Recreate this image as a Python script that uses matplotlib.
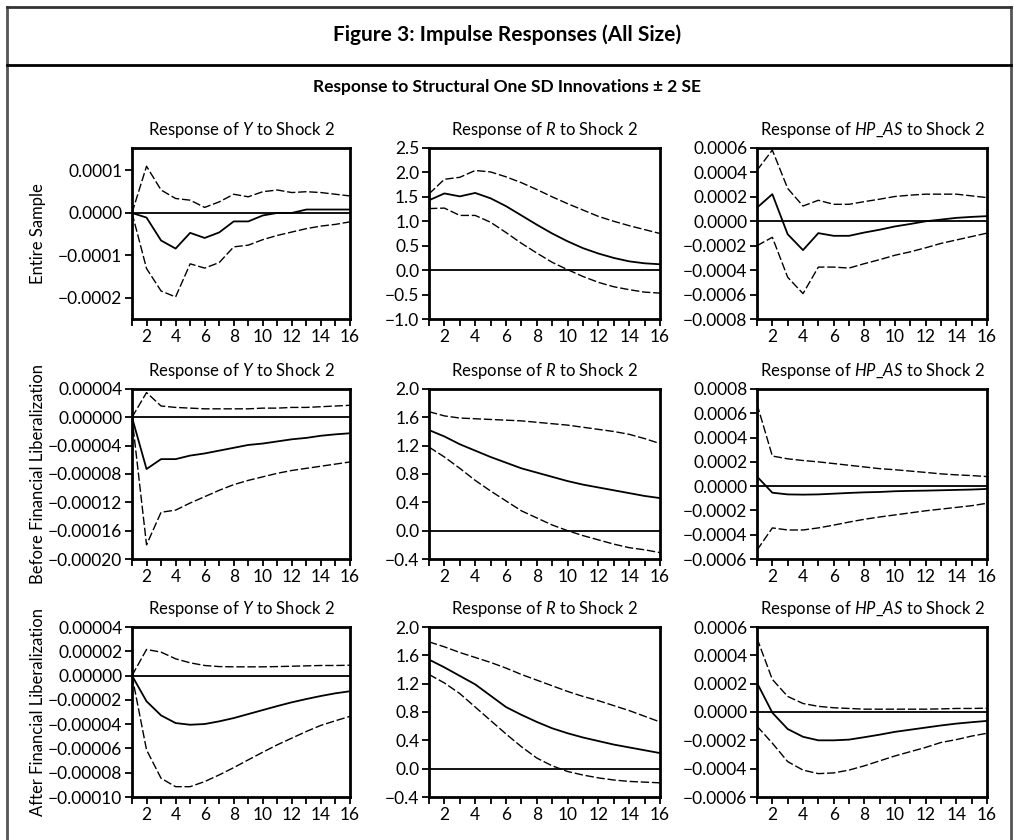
import numpy as np
import matplotlib
matplotlib.use("Agg")
import matplotlib.pyplot as plt
from matplotlib.lines import Line2D

plt.rcParams["font.family"] = ["Lato", "DejaVu Sans"]
plt.rcParams["mathtext.fontset"] = "custom"
plt.rcParams["mathtext.rm"] = "Lato"
plt.rcParams["mathtext.it"] = "Lato:italic"

periodos = np.arange(1, 17)

fila_nombres = ["Entire Sample", "Before Financial Liberalization", "After Financial Liberalization"]
variables = [r"$\mathit{Y}$", r"$\mathit{R}$", r"$\mathit{HP\_AS}$"]

# --- Entire sample ---
y_ent = np.array([0, -0.11, -0.65, -0.84, -0.47, -0.59, -0.46, -0.20, -0.20, -0.06, 0.0, 0.0, 0.08, 0.08, 0.08, 0.08]) * 1e-4
y_ent_up = np.array([0, 1.10, 0.54, 0.34, 0.30, 0.13, 0.26, 0.44, 0.38, 0.50, 0.54, 0.48, 0.50, 0.48, 0.44, 0.40]) * 1e-4
y_ent_lo = np.array([0, -1.31, -1.84, -1.98, -1.20, -1.30, -1.17, -0.80, -0.76, -0.63, -0.53, -0.45, -0.37, -0.31, -0.27, -0.21]) * 1e-4

r_ent = np.array([1.43, 1.57, 1.51, 1.58, 1.47, 1.31, 1.12, 0.93, 0.75, 0.59, 0.45, 0.34, 0.25, 0.18, 0.14, 0.12])
r_ent_up = np.array([1.56, 1.86, 1.90, 2.04, 2.01, 1.91, 1.79, 1.65, 1.50, 1.36, 1.23, 1.10, 1.00, 0.91, 0.83, 0.75])
r_ent_lo = np.array([1.26, 1.27, 1.12, 1.12, 0.98, 0.77, 0.55, 0.35, 0.16, 0.01, -0.13, -0.25, -0.34, -0.40, -0.45, -0.47])

hp_ent = np.array([1.11, 2.22, -1.06, -2.36, -0.97, -1.19, -1.19, -0.92, -0.69, -0.42, -0.22, 0.0, 0.14, 0.28, 0.36, 0.42]) * 1e-4
hp_ent_up = np.array([4.17, 5.83, 2.69, 1.25, 1.72, 1.39, 1.39, 1.61, 1.81, 2.03, 2.14, 2.22, 2.22, 2.22, 2.08, 1.94]) * 1e-4
hp_ent_lo = np.array([-2.0, -1.31, -4.58, -5.92, -3.75, -3.75, -3.83, -3.47, -3.14, -2.78, -2.50, -2.17, -1.81, -1.53, -1.25, -0.97]) * 1e-4

# --- Before financial liberalization ---
y_bef = np.array([0, -7.3, -5.9, -5.9, -5.4, -5.1, -4.7, -4.3, -3.9, -3.7, -3.4, -3.1, -2.9, -2.6, -2.4, -2.25]) * 1e-5
y_bef_up = np.array([0, 3.5, 1.6, 1.4, 1.3, 1.2, 1.2, 1.2, 1.2, 1.3, 1.3, 1.4, 1.4, 1.5, 1.6, 1.7]) * 1e-5
y_bef_lo = np.array([0, -18.0, -13.4, -13.1, -12.1, -11.2, -10.3, -9.5, -8.9, -8.4, -7.9, -7.5, -7.2, -6.9, -6.6, -6.3]) * 1e-5

r_bef = np.array([1.42, 1.33, 1.22, 1.13, 1.04, 0.96, 0.88, 0.82, 0.76, 0.70, 0.65, 0.61, 0.57, 0.53, 0.49, 0.46])
r_bef_up = np.array([1.68, 1.62, 1.59, 1.58, 1.57, 1.56, 1.55, 1.53, 1.51, 1.49, 1.46, 1.43, 1.40, 1.36, 1.30, 1.23])
r_bef_lo = np.array([1.18, 1.04, 0.88, 0.71, 0.56, 0.42, 0.28, 0.18, 0.08, 0.0, -0.07, -0.13, -0.19, -0.24, -0.27, -0.31])

hp_bef = np.array([0.79, -0.54, -0.68, -0.70, -0.68, -0.62, -0.56, -0.51, -0.48, -0.42, -0.39, -0.37, -0.34, -0.31, -0.28, -0.23]) * 1e-4
hp_bef_up = np.array([6.76, 2.48, 2.25, 2.11, 2.0, 1.86, 1.72, 1.58, 1.44, 1.35, 1.24, 1.13, 1.01, 0.93, 0.87, 0.79]) * 1e-4
hp_bef_lo = np.array([-5.27, -3.44, -3.61, -3.61, -3.44, -3.21, -2.96, -2.73, -2.54, -2.37, -2.20, -2.03, -1.89, -1.75, -1.61, -1.41]) * 1e-4

# --- After financial liberalization ---
y_aft = np.array([0, -2.12, -3.28, -3.91, -4.05, -3.99, -3.77, -3.50, -3.17, -2.84, -2.51, -2.20, -1.93, -1.68, -1.46, -1.29]) * 1e-5
y_aft_up = np.array([0, 2.15, 1.93, 1.38, 1.05, 0.83, 0.74, 0.72, 0.72, 0.72, 0.74, 0.77, 0.80, 0.83, 0.83, 0.85]) * 1e-5
y_aft_lo = np.array([0, -6.12, -8.46, -9.15, -9.15, -8.73, -8.18, -7.58, -6.94, -6.31, -5.70, -5.15, -4.60, -4.10, -3.72, -3.36]) * 1e-5

r_aft = np.array([1.54, 1.43, 1.31, 1.19, 1.03, 0.87, 0.76, 0.66, 0.57, 0.50, 0.44, 0.39, 0.34, 0.30, 0.26, 0.22])
r_aft_up = np.array([1.79, 1.72, 1.64, 1.57, 1.50, 1.42, 1.33, 1.25, 1.17, 1.09, 1.02, 0.96, 0.89, 0.82, 0.74, 0.66])
r_aft_lo = np.array([1.33, 1.21, 1.06, 0.87, 0.68, 0.49, 0.31, 0.15, 0.04, -0.04, -0.09, -0.13, -0.16, -0.18, -0.19, -0.20])

hp_aft = np.array([2.06, -0.05, -1.2, -1.75, -2.0, -2.0, -1.95, -1.78, -1.6, -1.4, -1.25, -1.1, -0.95, -0.82, -0.72, -0.63]) * 1e-4
hp_aft_up = np.array([5.2, 2.3, 1.1, 0.6, 0.4, 0.3, 0.25, 0.2, 0.2, 0.2, 0.2, 0.2, 0.22, 0.25, 0.25, 0.27]) * 1e-4
hp_aft_lo = np.array([-1.0, -2.2, -3.5, -4.1, -4.35, -4.3, -4.1, -3.8, -3.45, -3.1, -2.8, -2.5, -2.15, -1.95, -1.7, -1.5]) * 1e-4

series = [
    [(y_ent, y_ent_up, y_ent_lo), (r_ent, r_ent_up, r_ent_lo), (hp_ent, hp_ent_up, hp_ent_lo)],
    [(y_bef, y_bef_up, y_bef_lo), (r_bef, r_bef_up, r_bef_lo), (hp_bef, hp_bef_up, hp_bef_lo)],
    [(y_aft, y_aft_up, y_aft_lo), (r_aft, r_aft_up, r_aft_lo), (hp_aft, hp_aft_up, hp_aft_lo)],
]

# y ticks (values) and label format per panel
yticks = [
    [[-0.0002, -0.0001, 0.0, 0.0001], [-1.0, -0.5, 0.0, 0.5, 1.0, 1.5, 2.0, 2.5],
     [-0.0008, -0.0006, -0.0004, -0.0002, 0.0, 0.0002, 0.0004, 0.0006]],
    [[-0.0002, -0.00016, -0.00012, -0.00008, -0.00004, 0.0, 0.00004], [-0.4, 0.0, 0.4, 0.8, 1.2, 1.6, 2.0],
     [-0.0006, -0.0004, -0.0002, 0.0, 0.0002, 0.0004, 0.0006, 0.0008]],
    [[-0.0001, -0.00008, -0.00006, -0.00004, -0.00002, 0.0, 0.00002, 0.00004], [-0.4, 0.0, 0.4, 0.8, 1.2, 1.6, 2.0],
     [-0.0006, -0.0004, -0.0002, 0.0, 0.0002, 0.0004, 0.0006]],
]
ylims = [
    [(-0.00025, 0.000153), (-1.0, 2.5), (-0.0008, 0.0006)],
    [(-0.0002, 0.00004), (-0.4, 2.0), (-0.0006, 0.0008)],
    [(-0.0001, 0.00004), (-0.4, 2.0), (-0.0006, 0.0006)],
]
decimales = [[4, 1, 4], [5, 1, 4], [5, 1, 4]]

fig = plt.figure(figsize=(10.14, 8.4), dpi=100)

col_left = [132, 429, 757]
col_right = [350, 660, 987]
row_top = [148, 389, 627]
row_bot = [319, 559, 797]
W, H = 1014.0, 840.0

for i in range(3):
    for j in range(3):
        ax = fig.add_axes([col_left[j] / W, 1 - row_bot[i] / H,
                           (col_right[j] - col_left[j]) / W, (row_bot[i] - row_top[i]) / H])
        centro, arriba, abajo = series[i][j]
        ax.axhline(0, color="black", lw=1.3)
        ax.plot(periodos, arriba, color="black", lw=1.0, ls=(0, (6, 2)))
        ax.plot(periodos, abajo, color="black", lw=1.0, ls=(0, (6, 2)))
        ax.plot(periodos, centro, color="black", lw=1.3)
        ax.set_xlim(1, 16)
        ax.set_ylim(*ylims[i][j])
        ax.set_xticks(range(2, 17, 2))
        ax.set_xticks(range(1, 17), minor=True)
        ax.set_yticks(yticks[i][j])
        d = decimales[i][j]
        ax.set_yticklabels([("%.*f" % (d, v)).replace("-", "\u2212") for v in yticks[i][j]])
        ax.tick_params(axis="both", direction="out", length=5, width=1.3, labelsize=12.5, pad=2)
        ax.tick_params(axis="x", which="minor", direction="out", length=5, width=1.3)
        for s in ax.spines.values():
            s.set_linewidth(2)
        ax.set_title("Response of " + variables[j] + " to Shock 2", fontsize=12, pad=9.5)
    fig.text(38 / W, 1 - (row_top[i] + row_bot[i]) / 2 / H, fila_nombres[i], rotation=90,
             ha="center", va="center", fontsize=12)

# marco y encabezados
fig.add_artist(Line2D([7 / W, 7 / W], [0, 1 - 7 / H], color="#555555", lw=2))
fig.add_artist(Line2D([1011 / W, 1011 / W], [0, 1 - 7 / H], color="#555555", lw=2))
fig.add_artist(Line2D([7 / W, 1011 / W], [1 - 7 / H, 1 - 7 / H], color="#333333", lw=2))
fig.add_artist(Line2D([7 / W, 1011 / W], [1 - 65 / H, 1 - 65 / H], color="black", lw=2))

fig.text(0.5, 1 - 35 / H, "Figure 3: Impulse Responses (All Size)", ha="center", va="center",
         fontsize=15, fontweight="bold")
fig.text(0.5, 1 - 87 / H, "Response to Structural One SD Innovations \u00b1 2 SE", ha="center", va="center",
         fontsize=12.5, fontweight="bold")

fig.savefig("out.png", dpi=100)
